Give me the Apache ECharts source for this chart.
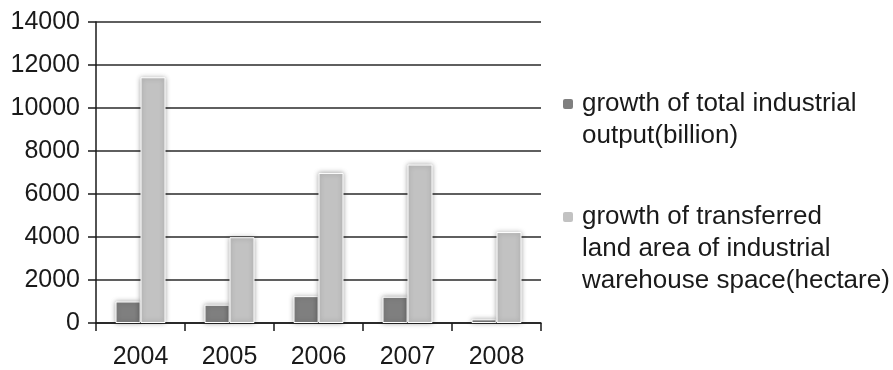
<!DOCTYPE html>
<html>
<head>
<meta charset="utf-8">
<script src="https://cdn.jsdelivr.net/npm/echarts@6/dist/echarts.min.js"></script>
<style>
  html, body { margin: 0; padding: 0; background: #fff; }
  #chart { width: 893px; height: 370px; }
</style>
</head>
<body>
<div id="chart"></div>
<script>
// Years on the category axis
const years = ['2004', '2005', '2006', '2007', '2008'];

// Growth of total industrial output (billion)
const outputGrowth = [1000, 850, 1250, 1220, 170];

// Growth of transferred land area of industrial warehouse space (hectare)
const landGrowth = [11430, 3990, 6980, 7370, 4230];

const seriesNames = [
  'growth of total industrial output(billion)',
  'growth of transferred land area of industrial warehouse space(hectare)'
];
const legendLines = [
  ['growth of total industrial', 'output(billion)'],
  ['growth of transferred', 'land area of industrial', 'warehouse space(hectare)']
];

const FONT = '"Liberation Sans", Arial, Helvetica, sans-serif';
const INK = '#1a1a1a';
const LINE_H = 32;

const chart = echarts.init(document.getElementById('chart'), null, { renderer: 'canvas' });

// Legend text is centred on its marker, so blank lines are put in front
// of the label to bring the first real line level with the marker.
function legendFor(i, top) {
  const lines = legendLines[i];
  const pad = new Array(lines.length - 1).fill(' ');
  return {
    orient: 'vertical',
    left: 561,
    top: top,
    padding: 0,
    itemWidth: 12,
    itemHeight: 12,
    itemGap: 0,
    selectedMode: false,
    data: [seriesNames[i]],
    formatter: () => pad.concat(lines).join('\n'),
    textStyle: {
      fontFamily: FONT,
      fontSize: 26,
      lineHeight: LINE_H,
      color: INK,
      padding: [0, 0, 0, 3]
    }
  };
}

const barStyle = {
  borderColor: '#ffffff',
  borderWidth: 1,
  shadowBlur: 5,
  shadowColor: 'rgba(0,0,0,0.35)'
};

chart.setOption({
  animation: false,
  backgroundColor: '#ffffff',
  grid: { left: 96, right: 352, top: 22, bottom: 45, containLabel: false },
  legend: [legendFor(0, 56), legendFor(1, 137)],
  xAxis: {
    type: 'category',
    data: years,
    boundaryGap: true,
    axisLine: { show: true, lineStyle: { color: INK, width: 1.5 } },
    axisTick: { show: true, length: 8, alignWithLabel: false, lineStyle: { color: INK, width: 1.5 } },
    axisLabel: { fontFamily: FONT, fontSize: 25, color: INK, margin: 22 }
  },
  yAxis: {
    type: 'value',
    min: 0,
    max: 14000,
    interval: 2000,
    axisLine: { show: true, lineStyle: { color: INK, width: 1.5 } },
    axisTick: { show: true, length: 8, lineStyle: { color: INK, width: 1.5 } },
    axisLabel: {
      fontFamily: FONT, fontSize: 25, color: INK, margin: 16,
      formatter: (v) => String(v)
    },
    splitLine: { show: true, lineStyle: { color: '#2a2a2a', width: 1.5 } }
  },
  series: [
    {
      name: seriesNames[0],
      type: 'bar',
      data: outputGrowth,
      barWidth: 25,
      barGap: '0%',
      itemStyle: Object.assign({ color: '#7f7f7f' }, barStyle)
    },
    {
      name: seriesNames[1],
      type: 'bar',
      data: landGrowth,
      barWidth: 25,
      barGap: '0%',
      itemStyle: Object.assign({ color: '#c2c2c2' }, barStyle)
    }
  ]
});
</script>
</body>
</html>
